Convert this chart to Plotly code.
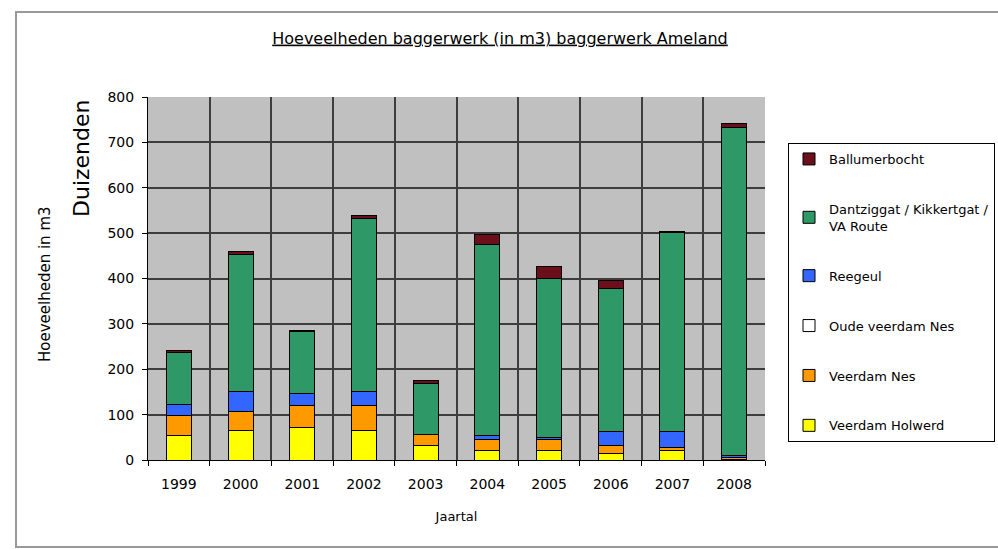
import plotly.graph_objects as go

years = ["1999", "2000", "2001", "2002", "2003", "2004", "2005", "2006", "2007", "2008"]
veerdam_holwerd = [53, 64, 72, 66, 31, 22, 20, 15, 20, 2]
veerdam_nes = [46, 42, 48, 54, 26, 24, 25, 18, 8, 3]
oude_veerdam_nes = [0, 0, 0, 0, 0, 0, 0, 0, 0, 0]
reegeul = [24, 46, 27, 32, 0, 8, 4, 30, 35, 5]
dantziggat = [115, 302, 136, 380, 111, 422, 351, 314, 438, 723]
ballumerbocht = [3, 6, 3, 6, 7, 20, 27, 19, 3, 8]

series = [
    ("Veerdam Holwerd", veerdam_holwerd, "#FFFF00"),
    ("Veerdam Nes", veerdam_nes, "#FF9900"),
    ("Oude veerdam Nes", oude_veerdam_nes, "#FFFFFF"),
    ("Reegeul", reegeul, "#3366FF"),
    ("Dantziggat / Kikkertgat /<br>VA Route", dantziggat, "#2E9966"),
    ("Ballumerbocht", ballumerbocht, "#6B0F1A"),
]

FONT = "DejaVu Sans, Verdana, sans-serif"

fig = go.Figure()
n = len(series)
for i, (name, vals, col) in enumerate(series):
    fig.add_trace(go.Bar(
        x=years, y=vals, name=name, legendgroup=f"g{i}",
        legendrank=n - i,
        marker=dict(color=col, line=dict(color="#000000", width=1)),
    ))

# figure is a bit wider than the 998px window: the chart frame runs past
# the right edge, as in the reference
W, H = 1040, 549
L, T, B = 148, 97, 89
R = W - 765
pw, ph = W - L - R, H - T - B

def px(x):
    return (x - L) / pw

def py(y):
    return (H - B - y) / ph

fig.update_layout(
    width=W, height=H,
    margin=dict(l=L, r=R, t=T, b=B, pad=0),
    paper_bgcolor="white",
    plot_bgcolor="#C0C0C0",
    barmode="stack",
    bargap=0.595,
    font=dict(family=FONT, size=13, color="#000000"),
    title=dict(
        text="<u>Hoeveelheden baggerwerk (in m3) baggerwerk Ameland</u>",
        x=px(500), xref="paper", xanchor="center",
        y=1 - 38 / H, yref="container", yanchor="middle",
        font=dict(family=FONT, size=16, color="#000000"),
    ),
    legend=dict(
        x=px(788), y=py(143), xanchor="left", yanchor="top",
        xref="paper", yref="paper",
        traceorder="grouped",
        tracegroupgap=30,
        bgcolor="white", bordercolor="#000000", borderwidth=1,
        font=dict(family=FONT, size=13, color="#000000"),
        itemwidth=30,
    ),
    xaxis=dict(
        type="category",
        tickson="boundaries",
        showgrid=True, gridcolor="#3D3D3D", gridwidth=1.5,
        showline=True, linecolor="#000000", linewidth=1,
        ticks="outside", ticklen=5, tickcolor="#000000",
        ticklabelstandoff=11,
        tickfont=dict(family=FONT, size=14),
        title=dict(text="Jaartal", standoff=21, font=dict(family=FONT, size=13)),
    ),
    yaxis=dict(
        range=[0, 800], dtick=100,
        showgrid=True, gridcolor="#3D3D3D", gridwidth=1.5,
        showline=True, linecolor="#000000", linewidth=1,
        ticks="outside", ticklen=5, tickcolor="#000000",
        ticklabelstandoff=5,
        tickfont=dict(family=FONT, size=14),
        zeroline=False,
    ),
    annotations=[
        dict(text="Duizenden", textangle=-90, x=px(82), y=py(159),
             xref="paper", yref="paper", xanchor="center", yanchor="middle",
             showarrow=False, font=dict(family=FONT, size=22, color="#000000")),
        dict(text="Hoeveelheden in m3", textangle=-90, x=px(45), y=py(284),
             xref="paper", yref="paper", xanchor="center", yanchor="middle",
             showarrow=False, font=dict(family=FONT, size=15, color="#000000")),
    ],
    shapes=[
        dict(type="rect", xref="paper", yref="paper",
             x0=px(16), x1=px(W + 20), y0=py(547), y1=py(12),
             line=dict(color="#999999", width=2), fillcolor="rgba(0,0,0,0)",
             layer="below"),
    ],
)

fig.write_html(
    "out.html",
    config={"displayModeBar": False},
    post_script="document.body.style.margin='0';document.body.style.overflow='hidden';",
)
